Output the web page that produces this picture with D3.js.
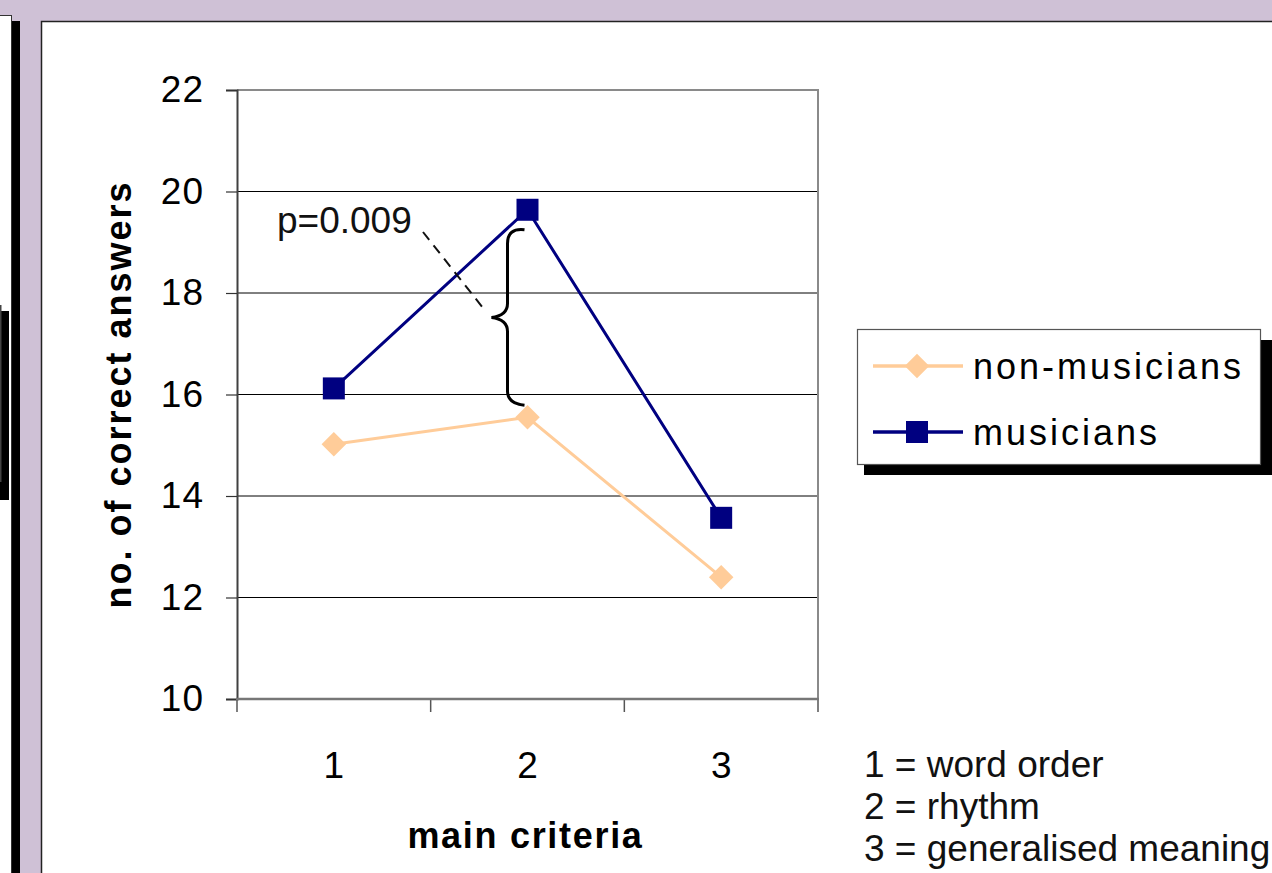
<!DOCTYPE html>
<html>
<head>
<meta charset="utf-8">
<script src="https://cdn.jsdelivr.net/npm/d3@7"></script>
<style>
body { margin:0; padding:0; background:#cfc1d6; overflow:hidden; }
svg { display:block; font-family:Arial, "Liberation Sans", sans-serif; }
</style>
</head>
<body>
<svg id="chart"></svg>
<script>
// values
var criteria = [1, 2, 3];
var nonMusicians = [15.02, 15.55, 12.40];
var musicians = [16.12, 19.64, 13.57];
var yTicks = [10, 12, 14, 16, 18, 20, 22];
var seriesNames = ["non-musicians", "musicians"];
var criteriaNotes = ["1 = word order", "2 = rhythm", "3 = generalised meaning"];
var pLabel = "p=0.009";

var screen = {width:1272, height:873};
var margins = {top:90, bottom:174, left:237, right:454};

var graph =
{
    width:screen.width-margins.left-margins.right,
    height:screen.height-margins.top-margins.bottom
}

var svg = d3.select("#chart")
    .attr("width", screen.width)
    .attr("height", screen.height)

// background panels (slide look)
svg.append("rect")
    .attr("x", 0).attr("y", 0)
    .attr("width", screen.width).attr("height", screen.height)
    .style("fill", "#cfc1d6")

svg.append("rect")
    .attr("x", 12).attr("y", 21)
    .attr("width", 8).attr("height", screen.height)
    .style("fill", "#000")

svg.append("rect")
    .attr("x", -5).attr("y", 15.5)
    .attr("width", 16.5).attr("height", screen.height)
    .style("fill", "#fff")
    .style("stroke", "#333")
    .style("stroke-width", 1)

svg.append("rect")
    .attr("x", 0).attr("y", 311)
    .attr("width", 9).attr("height", 189)
    .style("fill", "#000")

svg.append("rect")
    .attr("x", -10).attr("y", 305)
    .attr("width", 11.5).attr("height", 177)
    .style("fill", "#444")

svg.append("rect")
    .attr("x", 41.5).attr("y", 21.5)
    .attr("width", screen.width).attr("height", screen.height)
    .style("fill", "#fff")
    .style("stroke", "#222")
    .style("stroke-width", 1.5)

var xScale = d3.scaleBand()
    .domain(criteria)
    .range([margins.left, margins.left+graph.width])
    .padding(0)

var yScale = d3.scaleLinear()
    .domain([10, 22])
    .range([margins.top+graph.height, margins.top])

var xMid = function(d) { return xScale(d) + xScale.bandwidth()/2; }

// gridlines
svg.append("g")
    .selectAll("line")
    .data(yTicks.slice(1))
    .enter()
    .append("line")
    .attr("x1", margins.left)
    .attr("x2", margins.left+graph.width)
    .attr("y1", function(d){ return yScale(d); })
    .attr("y2", function(d){ return yScale(d); })
    .style("stroke", "#000")
    .style("stroke-width", 1)

// plot border top / right
svg.append("path")
    .attr("d", "M" + margins.left + "," + yScale(22) + "H" + (margins.left+graph.width) + "V" + yScale(10))
    .style("fill", "none")
    .style("stroke", "#8a8a8a")
    .style("stroke-width", 2)

// y axis
var yAxis = d3.axisLeft(yScale)
    .tickValues(yTicks)
    .tickSize(11)
    .tickPadding(22)

var yG = svg.append("g")
    .attr("transform", "translate(" + margins.left + ",0)")
    .call(yAxis)

yG.select(".domain").style("stroke", "#404040").style("stroke-width", 2)
yG.selectAll(".tick line").style("stroke", "#333").style("stroke-width", 1.2)
yG.selectAll(".tick text")
    .style("font-size", "37px")
    .style("font-family", "Arial, 'Liberation Sans', sans-serif")
    .style("letter-spacing", "1px")
    .style("fill", "#000")

// x axis
var xAxis = d3.axisBottom(xScale)
    .tickSize(0)
    .tickPadding(0)

var xG = svg.append("g")
    .attr("transform", "translate(0," + (margins.top+graph.height) + ")")
    .call(xAxis)

xG.select(".domain").remove()
xG.selectAll(".tick text")
    .attr("y", 79)
    .attr("dy", null)
    .style("font-size", "37px")
    .style("font-family", "Arial, 'Liberation Sans', sans-serif")
    .style("fill", "#000")

// band edges as tick marks
xG.selectAll(".edge")
    .data(criteria.concat([null]))
    .enter()
    .append("line")
    .attr("x1", function(d, i){ return margins.left + i*xScale.bandwidth(); })
    .attr("x2", function(d, i){ return margins.left + i*xScale.bandwidth(); })
    .attr("y1", 0)
    .attr("y2", 13)
    .style("stroke", "#555")
    .style("stroke-width", 1.5)

xG.append("line")
    .attr("x1", margins.left-1)
    .attr("x2", margins.left+graph.width+1)
    .attr("y1", 0).attr("y2", 0)
    .style("stroke", "#777")
    .style("stroke-width", 2.5)

// axis titles
svg.append("text")
    .attr("transform", "translate(131," + (margins.top+graph.height/2) + ") rotate(-90)")
    .attr("text-anchor", "middle")
    .style("font-size", "36px")
    .style("font-weight", "bold")
    .style("letter-spacing", "2px")
    .text("no. of correct answers")

svg.append("text")
    .attr("x", margins.left+graph.width/2 - 2)
    .attr("y", 848)
    .attr("text-anchor", "middle")
    .style("font-size", "36px")
    .style("font-weight", "bold")
    .style("letter-spacing", "1.7px")
    .text("main criteria")

// lines
var line = d3.line()
    .x(function(d, i){ return xMid(criteria[i]); })
    .y(function(d){ return yScale(d); })

svg.append("path")
    .datum(nonMusicians)
    .attr("d", line)
    .style("fill", "none")
    .style("stroke", "#ffcc99")
    .style("stroke-width", 3)

svg.append("path")
    .datum(musicians)
    .attr("d", line)
    .style("fill", "none")
    .style("stroke", "#000080")
    .style("stroke-width", 3)

var diamond = d3.symbol().type(d3.symbolSquare).size(300)

svg.selectAll(".nm")
    .data(nonMusicians)
    .enter()
    .append("path")
    .attr("d", diamond)
    .attr("transform", function(d, i){ return "translate(" + xMid(criteria[i]) + "," + yScale(d) + ") rotate(45)"; })
    .style("fill", "#ffcc99")

svg.selectAll(".mu")
    .data(musicians)
    .enter()
    .append("rect")
    .attr("x", function(d, i){ return xMid(criteria[i]) - 11; })
    .attr("y", function(d){ return yScale(d) - 11; })
    .attr("width", 22)
    .attr("height", 22)
    .style("fill", "#000080")

// brace + p value
var bx = xMid(2) - 20;
var bTop = yScale(musicians[1]) + 20;
var bBot = yScale(nonMusicians[1]) - 12;
var bMid = (bTop + bBot)/2;

svg.append("path")
    .attr("d", "M" + (bx+17) + "," + bTop +
               " Q" + bx + "," + (bTop-2) + " " + bx + "," + (bTop+14) +
               " V" + (bMid-14) +
               " Q" + bx + "," + (bMid-2) + " " + (bx-16) + "," + bMid +
               " Q" + bx + "," + (bMid+2) + " " + bx + "," + (bMid+14) +
               " V" + (bBot-14) +
               " Q" + bx + "," + (bBot-2) + " " + (bx+17) + "," + bBot)
    .style("fill", "none")
    .style("stroke", "#000")
    .style("stroke-width", 3)

svg.append("line")
    .attr("x1", 423).attr("y1", 232)
    .attr("x2", bx - 24).attr("y2", bMid - 9)
    .style("stroke", "#111")
    .style("stroke-width", 2)
    .style("stroke-dasharray", "10,7")

svg.append("text")
    .attr("x", 277)
    .attr("y", 233)
    .style("font-size", "37px")
    .style("fill", "#111")
    .text(pLabel)

// legend
var legend = svg.append("g")

legend.append("rect")
    .attr("x", 864).attr("y", 340)
    .attr("width", 420).attr("height", 135)
    .style("fill", "#000")

legend.append("rect")
    .attr("x", 857.5).attr("y", 329.5)
    .attr("width", 403).attr("height", 135)
    .style("fill", "#fff")
    .style("stroke", "#555")
    .style("stroke-width", 1.2)

var legendY = [366, 432];
var legendColors = ["#ffcc99", "#000080"];

legend.selectAll(".ll")
    .data(seriesNames)
    .enter()
    .append("line")
    .attr("x1", 873).attr("x2", 963)
    .attr("y1", function(d, i){ return legendY[i]; })
    .attr("y2", function(d, i){ return legendY[i]; })
    .style("stroke", function(d, i){ return legendColors[i]; })
    .style("stroke-width", 3.5)

legend.append("path")
    .attr("d", diamond)
    .attr("transform", "translate(917," + legendY[0] + ") rotate(45)")
    .style("fill", "#ffcc99")

legend.append("rect")
    .attr("x", 906).attr("y", legendY[1]-11)
    .attr("width", 22).attr("height", 22)
    .style("fill", "#000080")

legend.selectAll(".lt")
    .data(seriesNames)
    .enter()
    .append("text")
    .attr("x", 973)
    .attr("y", function(d, i){ return legendY[i] + 13; })
    .style("font-size", "36px")
    .style("letter-spacing", "3px")
    .text(function(d){ return d; })

// criteria key
svg.selectAll(".key")
    .data(criteriaNotes)
    .enter()
    .append("text")
    .attr("x", 864)
    .attr("y", function(d, i){ return 777 + i*42; })
    .style("font-size", "37px")
    .style("fill", "#111")
    .text(function(d){ return d; })
</script>
</body>
</html>
